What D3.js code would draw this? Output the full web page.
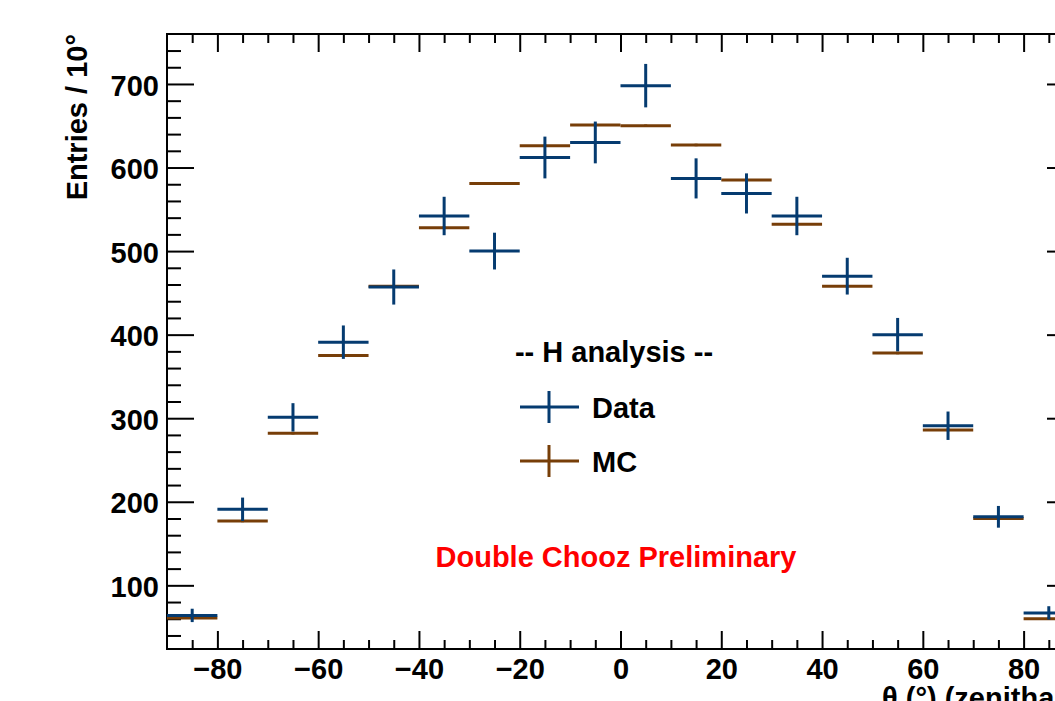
<!DOCTYPE html>
<html>
<head>
<meta charset="utf-8">
<script src="https://cdn.jsdelivr.net/npm/d3@7"></script>
<style>
  body { margin: 0; background: #fff; }
  svg text { font-family: "Liberation Sans", Arial, Helvetica, sans-serif; font-weight: bold; }
</style>
</head>
<body>
<svg id="chart" width="1055" height="701"></svg>
<script>

// bin centres (degrees), 10 degree bins
const binCenters = [-85, -75, -65, -55, -45, -35, -25, -15, -5, 5, 15, 25, 35, 45, 55, 65, 75, 85];
const binWidth = 10;

// data (H analysis)
const dataCounts = [64, 191, 301, 391, 457, 542, 500, 612, 630, 698, 587, 569, 542, 470, 400, 291, 182, 67];
const dataErrors = [8, 14, 17, 20, 21, 23, 22, 25, 25, 26, 24, 24, 23, 22, 20, 17, 13, 8];

// MC
const mcCounts = [61, 177, 282, 375, 458, 528, 581, 626, 651, 650, 627, 585, 532, 458, 378, 286, 180, 60];
const mcErrors = [1.5, 1.5, 1.5, 1.5, 1.5, 1.5, 1.5, 1.5, 1.5, 1.5, 1.5, 1.5, 1.5, 1.5, 1.5, 1.5, 1.5, 1.5];

const xMajorTicks = [-80, -60, -40, -20, 0, 20, 40, 60, 80];
const yMajorTicks = [100, 200, 300, 400, 500, 600, 700];

const xTitle = "\u03b8 (\u00b0) (zenithal angle)";
const yTitle = "Entries / 10\u00b0";

const dataColor = "#053b70";
const mcColor = "#773e08";
const fontSize = '29px';


const zenithPlot = function(){

    const render = function(target_id){

        let svg = d3.select('#' + target_id),
            frame = {left: 167, right: 1074, top: 34, bottom: 649};

        let xScale = d3.scaleLinear()
                        .domain([-90, 90])
                        .range([frame.left, frame.right]);

        let yScale = d3.scaleLinear()
                        .domain([23.8, 759.8])
                        .range([frame.bottom, frame.top]);

        let xMinor = d3.range(-85, 90, 5).filter(function(v){ return v % 20 !== 0 });
        let yMinor = d3.range(40, 760, 20).filter(function(v){ return v % 100 !== 0 });

        // ---- axes (ROOT style ticks, pointing inward)
        let styleAxis = function(g){
            g.select('.domain').remove();
            g.selectAll('.tick line').attr('stroke', '#000').attr('stroke-width', 2);
            g.selectAll('.tick text')
                .attr('fill', '#000')
                .style('font-family', '"Liberation Sans", Arial, sans-serif')
                .style('font-weight', 'bold')
                .style('font-size', fontSize);
        };

        svg.append('g')
            .attr('transform', `translate(0,${frame.bottom})`)
            .call(d3.axisBottom(xScale).tickValues(xMajorTicks).tickSizeInner(-18).tickSizeOuter(0).tickPadding(9))
            .call(styleAxis);
        svg.append('g')
            .attr('transform', `translate(0,${frame.bottom})`)
            .call(d3.axisBottom(xScale).tickValues(xMinor).tickSizeInner(-9).tickSizeOuter(0).tickFormat(''))
            .call(styleAxis);

        svg.append('g')
            .attr('transform', `translate(0,${frame.top})`)
            .call(d3.axisTop(xScale).tickValues(xMajorTicks).tickSizeInner(-18).tickSizeOuter(0).tickFormat(''))
            .call(styleAxis);
        svg.append('g')
            .attr('transform', `translate(0,${frame.top})`)
            .call(d3.axisTop(xScale).tickValues(xMinor).tickSizeInner(-9).tickSizeOuter(0).tickFormat(''))
            .call(styleAxis);

        let yAxisLeft = svg.append('g')
            .attr('transform', `translate(${frame.left},0)`)
            .call(d3.axisLeft(yScale).tickValues(yMajorTicks).tickSizeInner(-27).tickSizeOuter(0).tickPadding(8))
            .call(styleAxis);
        yAxisLeft.selectAll('.tick text').attr('dy', '0.38em');
        svg.append('g')
            .attr('transform', `translate(${frame.left},0)`)
            .call(d3.axisLeft(yScale).tickValues(yMinor).tickSizeInner(-14).tickSizeOuter(0).tickFormat(''))
            .call(styleAxis);

        svg.append('g')
            .attr('transform', `translate(${frame.right},0)`)
            .call(d3.axisRight(yScale).tickValues(yMajorTicks).tickSizeInner(-27).tickSizeOuter(0).tickFormat(''))
            .call(styleAxis);
        svg.append('g')
            .attr('transform', `translate(${frame.right},0)`)
            .call(d3.axisRight(yScale).tickValues(yMinor).tickSizeInner(-14).tickSizeOuter(0).tickFormat(''))
            .call(styleAxis);

        // frame
        svg.append('rect')
            .attr('x', frame.left)
            .attr('y', frame.top)
            .attr('width', frame.right - frame.left)
            .attr('height', frame.bottom - frame.top)
            .attr('fill', 'none')
            .attr('stroke', '#000')
            .attr('stroke-width', 2);

        // ---- axis titles
        svg.append('text')
            .attr('transform', `translate(87,${frame.top}) rotate(-90)`)
            .attr('text-anchor', 'end')
            .style('font-size', fontSize)
            .text(yTitle);

        // runs off the right edge, as in the original figure
        svg.append('text')
            .attr('x', 882)
            .attr('y', 708)
            .style('font-size', fontSize)
            .text(xTitle);

        // ---- histograms drawn as error crosses
        let drawSeries = function(counts, errors, color){
            let series = binCenters.map(function(c, i){
                return {x: c, y: counts[i], e: errors[i]};
            });
            let g = svg.append('g');
            g.selectAll('line.h')
                .data(series)
                .enter()
                .append('line')
                .attr('x1', function(d){ return xScale(d.x - binWidth / 2) })
                .attr('x2', function(d){ return xScale(d.x + binWidth / 2) })
                .attr('y1', function(d){ return yScale(d.y) })
                .attr('y2', function(d){ return yScale(d.y) })
                .attr('stroke', color)
                .attr('stroke-width', 3);
            g.selectAll('line.v')
                .data(series)
                .enter()
                .append('line')
                .attr('x1', function(d){ return xScale(d.x) })
                .attr('x2', function(d){ return xScale(d.x) })
                .attr('y1', function(d){ return yScale(d.y - d.e) })
                .attr('y2', function(d){ return yScale(d.y + d.e) })
                .attr('stroke', color)
                .attr('stroke-width', 3);
        };

        drawSeries(mcCounts, mcErrors, mcColor);
        drawSeries(dataCounts, dataErrors, dataColor);

        // ---- legend
        svg.append('text')
            .attr('x', 614)
            .attr('y', 362)
            .attr('text-anchor', 'middle')
            .style('font-size', fontSize)
            .text('-- H analysis --');

        let legendItems = [
            {label: 'Data', color: dataColor, y: 407},
            {label: 'MC', color: mcColor, y: 461}
        ];
        let leg = svg.append('g').selectAll('g')
            .data(legendItems)
            .enter()
            .append('g');
        leg.append('line')
            .attr('x1', 520).attr('x2', 579)
            .attr('y1', function(d){ return d.y }).attr('y2', function(d){ return d.y })
            .attr('stroke', function(d){ return d.color })
            .attr('stroke-width', 3);
        leg.append('line')
            .attr('x1', 549).attr('x2', 549)
            .attr('y1', function(d){ return d.y - 16 }).attr('y2', function(d){ return d.y + 16 })
            .attr('stroke', function(d){ return d.color })
            .attr('stroke-width', 3);
        leg.append('text')
            .attr('x', 592)
            .attr('y', function(d){ return d.y + 11 })
            .style('font-size', fontSize)
            .text(function(d){ return d.label });

        svg.append('text')
            .attr('x', 616)
            .attr('y', 567)
            .attr('text-anchor', 'middle')
            .attr('fill', '#ff0000')
            .style('font-size', fontSize)
            .text('Double Chooz Preliminary');
    };

    return {
        render: render
    }

}();

zenithPlot.render('chart');
</script>
</body>
</html>
